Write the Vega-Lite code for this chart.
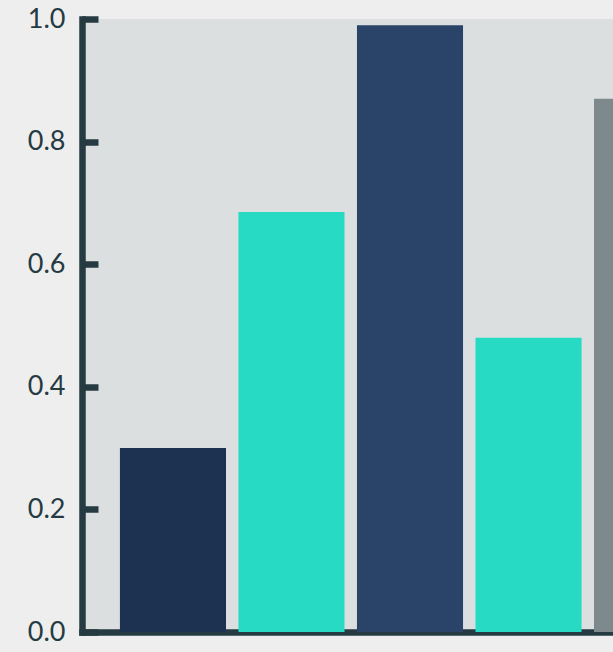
{
  "$schema": "https://vega.github.io/schema/vega-lite/v6.json",
  "autosize": "none",
  "width": 656,
  "height": 613,
  "padding": {"left": 82, "top": 19, "right": 0, "bottom": 20},
  "background": "#eeeeee",
  "config": {"view": {"stroke": null, "fill": "#dcdfe0"}},
  "data": {"values": [
    {"k": "A", "v": 0.3},
    {"k": "B", "v": 0.685},
    {"k": "C", "v": 0.99},
    {"k": "D", "v": 0.48},
    {"k": "E", "v": 0.87}
  ]},
  "mark": {"type": "bar"},
  "encoding": {
    "x": {
      "field": "k", "type": "nominal", "sort": null,
      "scale": {"paddingInner": 0.105, "paddingOuter": 0.32},
      "axis": {"title": null, "labels": false, "ticks": false, "domainColor": "#263a42", "domainWidth": 6.5, "domainCap": "square"}
    },
    "y": {
      "field": "v", "type": "quantitative",
      "scale": {"domain": [0, 1]},
      "axis": {
        "title": null, "values": [0, 0.2, 0.4, 0.6, 0.8, 1], "format": ".1f", "grid": false,
        "domainColor": "#263a42", "domainWidth": 6.5, "domainCap": "square",
        "tickColor": "#263a42", "tickWidth": 6.5, "tickSize": -16,
        "labelFont": "Lato", "labelFontSize": 27, "labelColor": "#263a42", "labelPadding": 33
      }
    },
    "color": {
      "field": "k", "type": "nominal", "sort": null,
      "scale": {"domain": ["A", "B", "C", "D", "E"], "range": ["#1d3150", "#27dac4", "#294369", "#27dac4", "#7d898d"]},
      "legend": null
    }
  }
}
